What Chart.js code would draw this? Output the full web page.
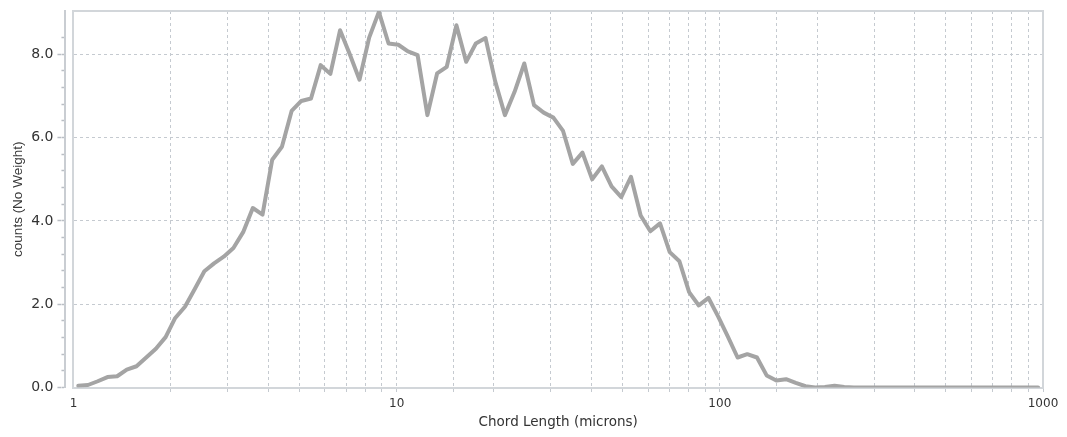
<!DOCTYPE html>
<html>
<head>
<meta charset="utf-8">
<script src="https://cdn.jsdelivr.net/npm/chart.js@4.4.1/dist/chart.umd.min.js"></script>
<style>
  html, body { margin: 0; padding: 0; background: #fff; }
  #wrap { width: 1067px; height: 437px; }
</style>
</head>
<body>
<div id="wrap"><canvas id="chord"></canvas></div>
<script>
// channel midpoints (microns), log-spaced 1..1000
const chordSizes = [
  1.035, 1.109, 1.189, 1.274, 1.365, 1.462, 1.567, 1.679, 1.799, 1.928,
  2.065, 2.213, 2.371, 2.541, 2.723, 2.917, 3.126, 3.350, 3.589, 3.846,
  4.121, 4.416, 4.732, 5.070, 5.433, 5.821, 6.237, 6.683, 7.161, 7.674,
  8.222, 8.811, 9.441,
  10.12, 10.84, 11.61, 12.45, 13.34, 14.29, 15.31, 16.41, 17.58, 18.84,
  20.18, 21.63, 23.17, 24.83, 26.61, 28.51, 30.55, 32.73, 35.08, 37.58,
  40.27, 43.15, 46.24, 49.55, 53.09, 56.89, 60.95, 65.31, 69.98, 74.99,
  80.35, 86.10, 92.26, 98.86,
  105.9, 113.5, 121.6, 130.3, 139.6, 149.6, 160.3, 171.8, 184.1, 197.2,
  211.4, 226.5, 242.7, 260.0, 278.6, 298.5, 319.9, 342.8, 367.3, 393.6,
  421.7, 451.9, 484.2, 518.8, 555.9, 595.7, 638.3, 683.9, 732.8, 785.2,
  841.4, 901.6, 966.1
];

// counts (No Weight) per channel
const counts = [
  0.04, 0.06, 0.15, 0.25, 0.27, 0.43, 0.51, 0.72, 0.93, 1.21,
  1.67, 1.94, 2.36, 2.79, 2.98, 3.14, 3.35, 3.73, 4.31, 4.15,
  5.47, 5.78, 6.64, 6.88, 6.94, 7.74, 7.53, 8.58, 8.00, 7.39,
  8.40, 9.02, 8.26, 8.23, 8.07, 7.98, 6.54, 7.54, 7.70, 8.70,
  7.82, 8.26, 8.39, 7.35, 6.54, 7.10, 7.78, 6.78, 6.60, 6.48,
  6.16, 5.37, 5.64, 5.00, 5.31, 4.83, 4.57, 5.06, 4.13, 3.75,
  3.94, 3.25, 3.03, 2.29, 1.97, 2.15, 1.70, 1.22, 0.72, 0.80,
  0.72, 0.29, 0.17, 0.20, 0.11, 0.03, 0.00, 0.01, 0.04, 0.01,
  0.00, 0.00, 0.00, 0.00, 0.00, 0.00, 0.00, 0.00, 0.00, 0.00,
  0.00, 0.00, 0.00, 0.00, 0.00, 0.00, 0.00, 0.00, 0.00, 0.00
];

const xLabelTicks = [1, 10, 100, 1000];
const yMajorStep = 2;
const yMinorStep = 0.4;
const yMax = 9.04;

const gridColor = '#c5cad0';
const frameColor = '#d2d6da';
const textColor = '#333333';

const isMultiple = (v, step) => Math.abs(v / step - Math.round(v / step)) < 1e-6;

new Chart(document.getElementById('chord'), {
  type: 'line',
  data: {
    labels: chordSizes,
    datasets: [{
      label: 'counts (No Weight)',
      data: counts,
      borderColor: '#a4a4a4',
      borderWidth: 4,
      pointRadius: 0,
      tension: 0,
      fill: false,
      borderJoinStyle: 'round',
      borderCapStyle: 'round'
    }]
  },
  options: {
    responsive: true, maintainAspectRatio: false, animation: false,
    layout: { padding: { top: 5, right: 24, bottom: 0, left: 0 } },
    plugins: { legend: { display: false }, tooltip: { enabled: false } },
    scales: {
      x: {
        type: 'logarithmic', position: 'bottom', min: 1, max: 1000,
        grid: {
          color: c => (c.tick && (c.tick.value === 1 || c.tick.value === 1000)) ? 'transparent' : gridColor,
          lineWidth: 1, tickLength: 6,
          tickColor: c => (c.tick && c.tick.value === 1) ? 'transparent' : gridColor,
          tickBorderDash: [3, 3]
        },
        border: { display: true, color: frameColor, width: 2, dash: [3, 3] },
        ticks: {
          autoSkip: false, maxRotation: 0, padding: 4.4,
          font: { family: 'DejaVu Sans', size: 12, lineHeight: 1 }, color: textColor,
          callback: v => xLabelTicks.includes(v) ? String(v) : ''
        },
        title: {
          display: true, text: 'Chord Length (microns)', color: textColor,
          font: { family: 'DejaVu Sans', size: 13.5 }, padding: { top: 0, bottom: 6.5 }
        }
      },
      xTop: {
        type: 'linear', position: 'top', min: 0, max: 1,
        ticks: { display: false },
        grid: { drawOnChartArea: false, drawTicks: false },
        border: { display: true, color: frameColor, width: 2 }
      },
      // inner left axis: plot frame + horizontal grid
      y: {
        position: 'left', weight: 0, min: 0, max: yMax,
        ticks: { display: false, stepSize: yMajorStep },
        grid: {
          color: c => (c.tick && c.tick.value > 0 && c.tick.value < 9) ? gridColor : 'transparent',
          drawTicks: true, tickLength: 8, tickColor: 'transparent'
        },
        border: { display: true, color: frameColor, width: 2, dash: [3, 3] }
      },
      // axis line + minor ticks
      yMinor: {
        position: 'left', weight: 1, min: 0, max: yMax,
        ticks: { display: false, stepSize: yMinorStep },
        grid: {
          drawOnChartArea: false, tickLength: 4, tickWidth: 1.5,
          tickColor: c => (c.tick && isMultiple(c.tick.value, yMinorStep)) ? '#b9bec4' : 'transparent'
        },
        border: { display: true, color: '#c9cdd2', width: 2 }
      },
      // labels + long part of major ticks
      yLabels: {
        position: 'left', weight: 2, min: 0, max: yMax,
        ticks: {
          stepSize: yMajorStep, padding: 4,
          font: { family: 'DejaVu Sans', size: 14, lineHeight: 1 }, color: textColor,
          callback: v => isMultiple(v, yMajorStep) ? v.toFixed(1) : ''
        },
        grid: {
          drawOnChartArea: false, tickLength: 4, tickWidth: 1.5,
          tickColor: c => (c.tick && isMultiple(c.tick.value, yMajorStep)) ? '#b9bec4' : 'transparent'
        },
        border: { display: false },
        title: {
          display: true, text: 'counts (No Weight)', color: '#3a3a3a',
          font: { family: 'Liberation Sans', size: 13.5 }, padding: { top: 10, bottom: 1 }
        }
      },
      yRight: {
        position: 'right', min: 0, max: yMax,
        ticks: { display: false },
        grid: { drawOnChartArea: false, drawTicks: false },
        border: { display: true, color: frameColor, width: 2 }
      }
    }
  }
});
</script>
</body>
</html>
